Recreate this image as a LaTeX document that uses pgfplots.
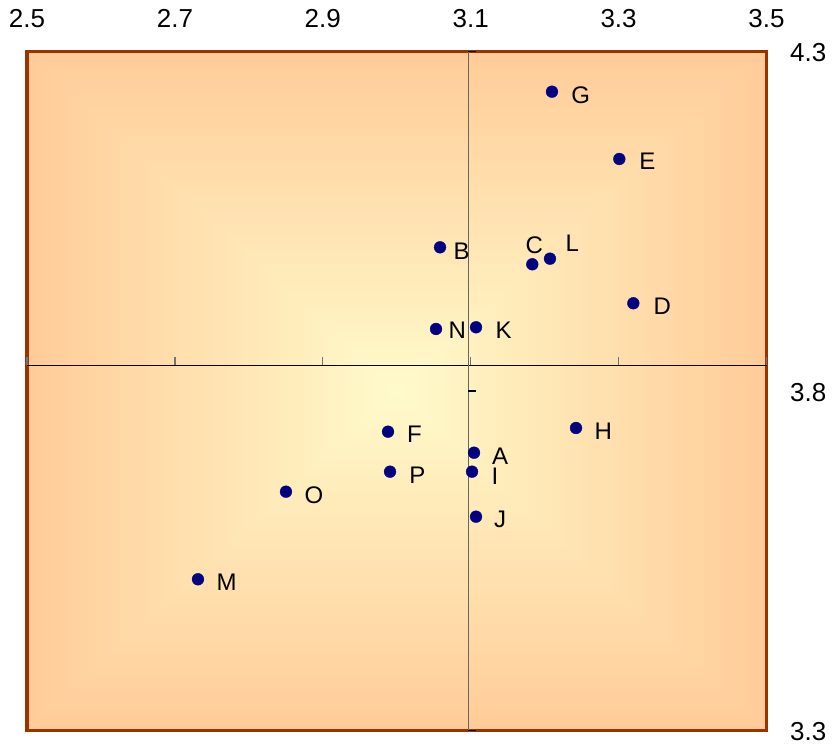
\documentclass[border=0pt]{standalone}
\usepackage{pgfplots}
\pgfplotsset{compat=1.18}
\usepackage{pgfplotstable}
\usepackage{fontspec}
\setmainfont{Liberation Sans}

\definecolor{edgeorange}{RGB}{255,204,153}
\definecolor{centreyellow}{RGB}{255,250,202}
\definecolor{framebrown}{RGB}{153,51,0}
\definecolor{dotnavy}{RGB}{0,0,128}

% points: position, label, label offset (pt)
\pgfplotstableread{
x      y      name dx   dy
3.2099 4.2408 G    19.2 -3.3
3.3010 4.1417 E    19.9 -2.3
3.0585 4.0116 B    13.5 -3.7
3.1833 3.9866 C    -6.8 19.3
3.2072 3.9949 L    15.5 15.2
3.3199 3.9292 D    20.2 -2.5
3.0531 3.8913 N    12.5 -1.0
3.1072 3.8938 K    19.5 -3.0
3.2424 3.7455 H    18.5 -3.3
2.9882 3.7401 F    18.8 -2.3
3.1045 3.7091 A    17.8 -3.1
2.9909 3.6812 P    19.2 -3.6
3.1018 3.6812 I    19.5 -4.3
3.1072 3.6149 J    18.0 -2.5
2.8502 3.6517 O    18.5 -3.3
2.7312 3.5227 M    18.5 -2.7
}\pts

\begin{document}
\begin{tikzpicture}[x=1pt,y=1pt]
\path[use as bounding box] (-27,-15.5) rectangle (806,730.5);
% rectangular gradient, orange at the edge, pale yellow in the middle
\foreach \i in {0,...,47} {
  \pgfmathsetmacro\s{1-\i/48}
  \pgfmathsetmacro\p{100*\i/47}
  \fill[centreyellow!\p!edgeorange] (369.75-369.75*\s,339.5-339.5*\s) rectangle (369.75+369.75*\s,339.5+339.5*\s);
}
\begin{axis}[
  at={(0,0)}, anchor=south west,
  scale only axis, width=739.5pt, height=679pt,
  xmin=2.5, xmax=3.5, ymin=3.3, ymax=4.3,
  xtick={2.5,2.7,2.9,3.1,3.3,3.5},
  ytick={3.3,3.8,4.3},
  xticklabel pos=upper, yticklabel pos=upper,
  major tick length=0pt, tick style={draw=none},
  axis line style={draw=framebrown, line width=3.5pt},
  /pgf/number format/.cd, fixed, fixed zerofill, precision=1, assume math mode=true,
  /pgfplots/.cd,
  tick label style={font=\fontsize{26}{30}\selectfont},
  xticklabel style={anchor=base, inner sep=0pt, yshift=23.5pt},
  yticklabel style={anchor=west, inner sep=0pt, xshift=23.5pt, yshift=-1.5pt},
  clip=false,
]
% crossing axes with their small ticks
\draw[black, line width=1.3pt] (axis cs:2.5,3.838) -- (axis cs:3.5,3.838);
\draw[black!60, line width=1.8pt] (axis cs:3.097,3.3) -- (axis cs:3.097,4.3);
\pgfplotsinvokeforeach{2.5,2.7,2.9,3.1,3.3,3.5}{
  \draw[black!55, line width=1.3pt] (axis cs:#1,3.838) -- ++(0pt,8pt);
}
\pgfplotsinvokeforeach{3.3,3.8,4.3}{
  \draw[black, line width=1.2pt] (axis cs:3.097,#1) -- ++(8pt,0pt);
}

\addplot[only marks, mark=*, mark size=5.9pt,
  mark options={fill=dotnavy, draw=dotnavy},
  point meta=explicit symbolic,
  visualization depends on={\thisrow{dx}\as\dx},
  visualization depends on={\thisrow{dy}\as\dy},
  nodes near coords,
  every node near coord/.append style={anchor=west, inner sep=0pt,
    xshift=\dx pt, yshift=\dy pt,
    font=\fontsize{24}{28}\selectfont, text=black},
] table[x=x, y=y, meta=name] {\pts};
\end{axis}
\end{tikzpicture}
\end{document}
